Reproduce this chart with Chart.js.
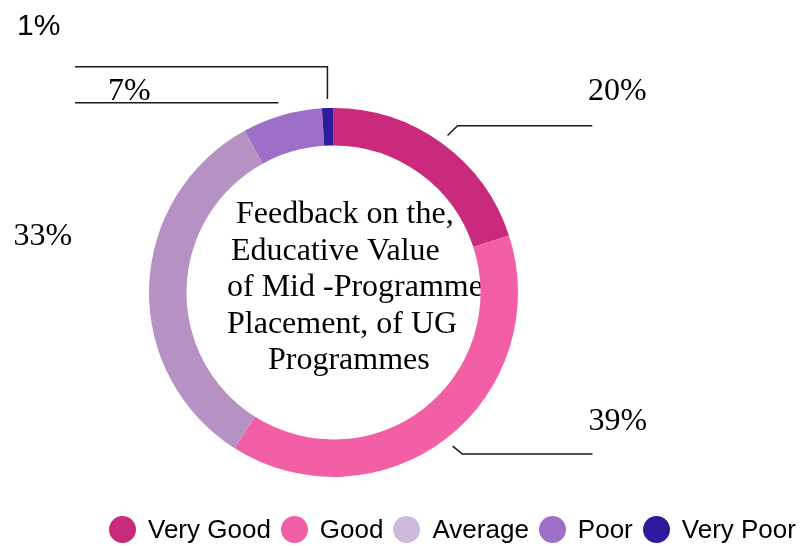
<!DOCTYPE html>
<html>
<head>
<meta charset="utf-8">
<script src="https://cdn.jsdelivr.net/npm/chart.js@4.4.1/dist/chart.umd.min.js"></script>
<style>
    html, body { margin: 0; padding: 0; background: #fff; }
    #wrap { position: relative; width: 801px; height: 546px; }
    #legend {
        position: absolute; left: 109px; top: 514px;
        display: flex; align-items: center;
        font-family: Arial, "Liberation Sans", sans-serif; font-size: 26px; color: #000;
        white-space: nowrap;
    }
    .item { display: flex; align-items: center; margin-right: 10px; }
    .dot { width: 27px; height: 27px; border-radius: 50%; margin-right: 12px; }
</style>
</head>
<body>
<div id="wrap">
    <canvas id="feedbackChart" width="801" height="546"></canvas>
    <div id="legend"></div>
</div>
<script>
// Data
const categories = ['Very Good', 'Good', 'Average', 'Poor', 'Very Poor'];
const shares = [20, 39, 33, 7, 1];
const valueLabels = ['20%', '39%', '33%', '7%', '1%'];
const sliceColors = ['#C92A7B', '#F25FA5', '#B692C4', '#9D6FC9', '#2E1A9E'];
const legendColors = ['#C92A7B', '#F25FA5', '#CDB9DA', '#9D6FC9', '#2E1A9E'];
const centerLines = ['Feedback on the,', 'Educative Value', 'of Mid -Programme', 'Placement, of UG', 'Programmes'];

const serif = '"Times New Roman", "Liberation Serif", serif';

// Center title, drawn under the ring (the ring hides the overflow)
const centerText = {
    id: 'centerText',
    beforeDatasetsDraw(chart) {
        const arc = chart.getDatasetMeta(0).data[0];
        if (!arc) return;
        const ctx = chart.ctx;
        const indent = [-97.5, -102.5, -106.5, -106.5, -65.5];
        ctx.save();
        ctx.font = '32px ' + serif;
        ctx.fillStyle = '#000';
        ctx.textAlign = 'left';
        ctx.textBaseline = 'alphabetic';
        centerLines.forEach((line, i) => {
            ctx.fillText(line, arc.x + indent[i], arc.y - 69.3 + i * 36.5);
        });
        ctx.restore();
    }
};

// Percent labels with leader lines
const sliceLabels = {
    id: 'sliceLabels',
    afterDatasetsDraw(chart) {
        const meta = chart.getDatasetMeta(0);
        const ctx = chart.ctx;
        const cx = meta.data[0].x, cy = meta.data[0].y;
        // where each label sits, relative to the ring centre
        const layout = [
            { tx: 254.5, ty: -192.5, gap: 9.5, path: p => [p, [p[0] + 10, cy - 166.8], [cx + 258.8, cy - 166.8]] },
            { tx: 255, ty: 137.5, gap: 10, path: p => [p, [p[0] + 9.5, cy + 161.5], [cx + 259, cy + 161.5]] },
            { tx: -320, ty: -47.5, gap: 0, path: null },
            { tx: -225.5, ty: -192.5, gap: 13, path: p => [p, [cx - 258.5, p[1]]] },
            { tx: -316.5, ty: -257.5, gap: 9, path: p => [p, [p[0], cy - 225.8], [cx - 258.5, cy - 225.8]], sans: true }
        ];
        ctx.save();
        meta.data.forEach((arc, i) => {
            const L = layout[i];
            const mid = (arc.startAngle + arc.endAngle) / 2;
            const r = arc.outerRadius + L.gap;
            const p = [arc.x + Math.cos(mid) * r, arc.y + Math.sin(mid) * r];
            if (L.path) {
                const pts = L.path(p);
                ctx.beginPath();
                ctx.moveTo(pts[0][0], pts[0][1]);
                for (let k = 1; k < pts.length; k++) ctx.lineTo(pts[k][0], pts[k][1]);
                ctx.strokeStyle = '#1a1a1a';
                ctx.lineWidth = 1.5;
                ctx.stroke();
            }
            ctx.font = L.sans ? '30px "Liberation Sans", Arial, sans-serif' : '32px ' + serif;
            ctx.fillStyle = '#000';
            ctx.textAlign = 'left';
            ctx.textBaseline = 'alphabetic';
            ctx.fillText(valueLabels[i], cx + L.tx, cy + L.ty);
        });
        ctx.restore();
    }
};

const ctx = document.getElementById('feedbackChart').getContext('2d');
const chart = new Chart(ctx, {
    type: 'doughnut',
    data: {
        labels: categories,
        datasets: [{
            data: shares,
            backgroundColor: sliceColors,
            borderWidth: 0
        }]
    },
    options: {
        responsive: false,
        animation: false,
        radius: 184.5,
        cutout: 147,
        layout: { padding: { left: 0, right: 134, top: 108, bottom: 69 } },
        plugins: {
            legend: { display: false },
            tooltip: { enabled: false }
        }
    },
    plugins: [centerText, sliceLabels]
});

// Legend built from the chart's own labels
const legendBox = document.getElementById('legend');
chart.data.labels.forEach((label, i) => {
    legendBox.insertAdjacentHTML('beforeend',
        `<div class="item"><span class="dot" style="background:${legendColors[i]}"></span><span>${label}</span></div>`);
});
</script>
</body>
</html>
